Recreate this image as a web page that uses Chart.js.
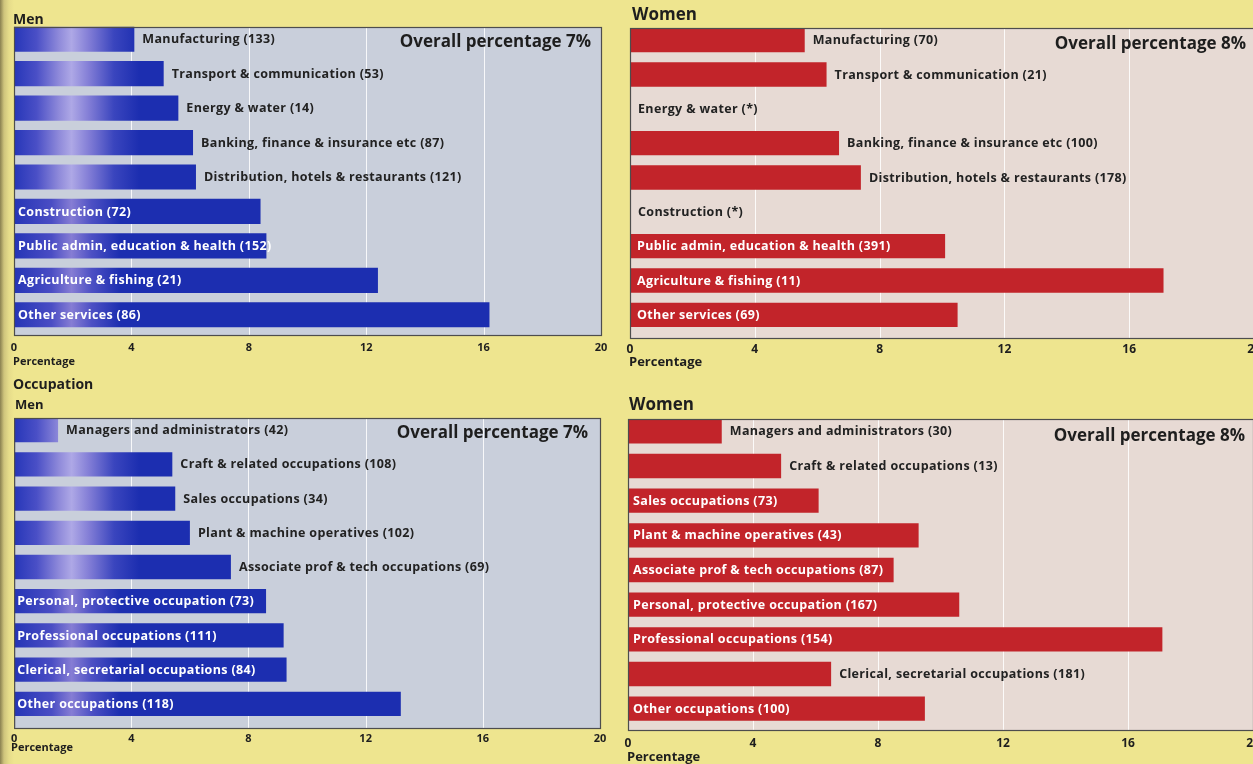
<!DOCTYPE html>
<html><head><meta charset="utf-8">
<script src="https://cdn.jsdelivr.net/npm/chart.js@4.4.1/dist/chart.umd.min.js"></script>
<style>
html,body{margin:0;padding:0;width:1253px;height:764px;overflow:hidden;background:#eee58f;}
body{position:relative;}
canvas{position:absolute;}
#edge{position:absolute;left:0;top:0;width:14px;height:764px;background:linear-gradient(to right,#8a8050 0px,#cfc47c 4px,#e6dc8a 9px,rgba(238,229,143,0) 14px);}
</style></head><body>
<div id="edge"></div>
<canvas id="c1" width="625" height="380" style="left:0;top:0"></canvas>
<canvas id="c2" width="680" height="380" style="left:600px;top:0"></canvas>
<canvas id="c3" width="625" height="394" style="left:0;top:370px"></canvas>
<canvas id="c4" width="680" height="384" style="left:600px;top:380px"></canvas>
<script>
// ---------- DATA ----------
const xTicks = [0, 4, 8, 12, 16, 20];

const industryLabels = ["Manufacturing","Transport & communication","Energy & water","Banking, finance & insurance etc","Distribution, hotels & restaurants","Construction","Public admin, education & health","Agriculture & fishing","Other services"];
const menIndustryPct   = [4.1, 5.1, 5.6, 6.1, 6.2, 8.4, 8.6, 12.4, 16.2];
const menIndustryCount = [133, 53, 14, 87, 121, 72, 152, 21, 86];
const womenIndustryPct   = [5.6, 6.3, 0, 6.7, 7.4, 0, 10.1, 17.1, 10.5];
const womenIndustryCount = [70, 21, null, 100, 178, null, 391, 11, 69];

const occupationLabels = ["Managers and administrators","Craft & related occupations","Sales occupations","Plant & machine operatives","Associate prof & tech occupations","Personal, protective occupation","Professional occupations","Clerical, secretarial occupations","Other occupations"];
const menOccPct   = [1.5, 5.4, 5.5, 6.0, 7.4, 8.6, 9.2, 9.3, 13.2];
const menOccCount = [42, 108, 34, 102, 69, 73, 111, 84, 118];
const womenOccPct   = [3.0, 4.9, 6.1, 9.3, 8.5, 10.6, 17.1, 6.5, 9.5];
const womenOccCount = [30, 13, 73, 43, 87, 167, 154, 181, 100];

const menOverall = 7;
const womenOverall = 8;

// label placement (1 = inside the bar, 0 = after the bar)
const menIndustryInside   = [0,0,0,0,0,1,1,1,1];
const womenIndustryInside = [0,0,0,0,0,0,1,1,1];
const menOccInside        = [0,0,0,0,0,1,1,1,1];
const womenOccInside      = [0,0,1,1,1,1,1,0,1];

// ---------- STYLE ----------
const FONT = "'Open Sans', Lato, 'DejaVu Sans', sans-serif";
const BLUE = '#1c2eb0';
const RED = '#c2242a';

function menBarColor(c){
  const ch = c.chart, a = ch.chartArea;
  if (!a) return BLUE;
  const g = ch.ctx.createLinearGradient(a.left, 0, a.left + 125, 0);
  if (c.dataIndex < 5) {
    g.addColorStop(0, '#2636b8');
    g.addColorStop(0.18, '#4a4fc6');
    g.addColorStop(0.36, '#8f8ada');
    g.addColorStop(0.46, '#aea8e6');
    g.addColorStop(0.6, '#827dd6');
    g.addColorStop(0.8, '#3a45be');
    g.addColorStop(1, BLUE);
  } else {
    g.addColorStop(0, '#2535b6');
    g.addColorStop(0.3, '#4a4dc4');
    g.addColorStop(0.46, '#867dd4');
    g.addColorStop(0.62, '#4d50c4');
    g.addColorStop(0.85, BLUE);
    g.addColorStop(1, BLUE);
  }
  return g;
}

const panelPlugin = {
  id: 'panel',
  beforeDatasetsDraw(chart, args, o){
    const {ctx, chartArea: a} = chart;
    const xs = chart.scales.x;
    ctx.save();
    ctx.fillStyle = o.bg;
    ctx.fillRect(a.left, o.top, a.right - a.left, o.bottom - o.top);
    ctx.strokeStyle = 'rgba(255,255,255,0.85)';
    ctx.lineWidth = 1;
    xTicks.forEach(v => {
      if (v === xs.min || v === xs.max) return;
      const x = Math.round(xs.getPixelForValue(v)) + 0.5;
      ctx.beginPath(); ctx.moveTo(x, o.top); ctx.lineTo(x, o.bottom); ctx.stroke();
    });
    ctx.restore();
  },
  afterDatasetsDraw(chart, args, o){
    const {ctx} = chart;
    const meta = chart.getDatasetMeta(0);
    const labels = chart.data.labels;
    ctx.save();
    ctx.font = `bold ${o.labelSize}px ${FONT}`;
    ctx.letterSpacing = '0.35px';
    ctx.textBaseline = 'middle';
    ctx.textAlign = 'left';
    meta.data.forEach((bar, i) => {
      const cnt = o.counts[i];
      const txt = labels[i] + ' (' + (cnt === null ? '*' : cnt) + ')';
      if (o.inside[i]) {
        ctx.fillStyle = '#ffffff';
        ctx.fillText(txt, bar.base + o.inPad, bar.y + 0.5);
      } else {
        ctx.fillStyle = '#222222';
        ctx.fillText(txt, bar.x + 8, bar.y + 0.5);
      }
    });
    ctx.restore();
  },
  afterDraw(chart, args, o){
    const {ctx, chartArea: a} = chart;
    ctx.save();
    ctx.strokeStyle = '#4d4d4d';
    ctx.lineWidth = 1.2;
    ctx.strokeRect(a.left + 0.5, o.top + 0.5, a.right - a.left, o.bottom - o.top);
    ctx.fillStyle = '#1e1e1e';
    ctx.textBaseline = 'middle';
    ctx.textAlign = 'right';
    ctx.font = `bold 17px ${FONT}`;
    ctx.fillText('Overall percentage ' + o.overall + '%', a.right - o.overallRight, o.top + o.overallDy);
    ctx.textAlign = 'left';
    o.titles.forEach(t => {
      ctx.font = `bold ${t.size}px ${FONT}`;
      ctx.fillText(t.text, t.x, t.y);
    });
    ctx.font = `bold ${o.pctSize}px ${FONT}`;
    ctx.fillText('Percentage', o.pctX, o.pctY);
    ctx.restore();
  }
};

function makeChart(id, labels, values, counts, inside, overall, cfg){
  return new Chart(document.getElementById(id), {
    type: 'bar',
    data: {
      labels: labels,
      datasets: [{
        data: values,
        backgroundColor: cfg.color,
        borderWidth: 0,
        barPercentage: cfg.barPct,
        categoryPercentage: 1
      }]
    },
    options: {
      indexAxis: 'y',
      responsive: false,
      animation: false,
      devicePixelRatio: 1,
      layout: { padding: cfg.pad },
      plugins: {
        legend: { display: false },
        tooltip: { enabled: false },
        panel: {
          bg: cfg.bg, counts: counts, inside: inside, overall: overall,
          top: cfg.panelTop, bottom: cfg.panelBottom,
          labelSize: cfg.labelSize, inPad: cfg.inPad,
          overallRight: cfg.overallRight, overallDy: cfg.overallDy,
          titles: cfg.titles, pctX: cfg.pctX, pctY: cfg.pctY, pctSize: cfg.pctSize
        }
      },
      scales: {
        x: {
          min: 0, max: 20,
          afterBuildTicks: s => { s.ticks = xTicks.map(v => ({ value: v })); },
          ticks: { color: '#1e1e1e', font: { family: FONT, weight: 'bold', size: cfg.tickSize }, padding: cfg.tickPad, maxRotation: 0, autoSkip: false },
          grid: { display: false, drawTicks: false },
          border: { display: false },
          afterFit: s => { s.height = 32; }
        },
        y: { display: false }
      }
    },
    plugins: [panelPlugin]
  });
}

// Top-left: men, industry
makeChart('c1', industryLabels, menIndustryPct, menIndustryCount, menIndustryInside, menOverall, {
  color: menBarColor, bg: '#c9cfdb', labelSize: 12.5, inPad: 4, barPct: 0.73,
  pad: { left: 14, right: 24, top: 22, bottom: 16 },
  panelTop: 27, panelBottom: 335,
  tickSize: 11, tickPad: 9, overallRight: 10, overallDy: 15,
  titles: [{ text: 'Men', x: 13, y: 20, size: 14 }],
  pctX: 13, pctY: 362, pctSize: 11
});

// Top-right: women, industry
makeChart('c2', industryLabels, womenIndustryPct, womenIndustryCount, womenIndustryInside, womenOverall, {
  color: RED, bg: '#e7dad4', labelSize: 12.5, inPad: 7, barPct: 0.71,
  pad: { left: 30, right: 26, top: 23, bottom: 16 },
  panelTop: 28, panelBottom: 338,
  tickSize: 12, tickPad: 10, overallRight: 8, overallDy: 16,
  titles: [{ text: 'Women', x: 32, y: 15, size: 17 }],
  pctX: 29, pctY: 362, pctSize: 13
});

// Bottom-left: men, occupation
makeChart('c3', occupationLabels, menOccPct, menOccCount, menOccInside, menOverall, {
  color: menBarColor, bg: '#c9cfdb', labelSize: 12.5, inPad: 3, barPct: 0.71,
  pad: { left: 14, right: 25, top: 43, bottom: 11 },
  panelTop: 48, panelBottom: 358,
  tickSize: 11, tickPad: 11, overallRight: 12, overallDy: 15,
  titles: [{ text: 'Occupation', x: 13, y: 15, size: 14 }, { text: 'Men', x: 15, y: 35, size: 13 }],
  pctX: 11, pctY: 378, pctSize: 11
});

// Bottom-right: women, occupation
makeChart('c4', occupationLabels, womenOccPct, womenOccCount, womenOccInside, womenOverall, {
  color: RED, bg: '#e7dad4', labelSize: 12.5, inPad: 5, barPct: 0.70,
  pad: { left: 28, right: 27, top: 34, bottom: 6 },
  panelTop: 39, panelBottom: 350,
  tickSize: 12, tickPad: 10, overallRight: 8, overallDy: 17,
  titles: [{ text: 'Women', x: 29, y: 25, size: 17 }],
  pctX: 27, pctY: 377, pctSize: 13
});
</script>
</body></html>
